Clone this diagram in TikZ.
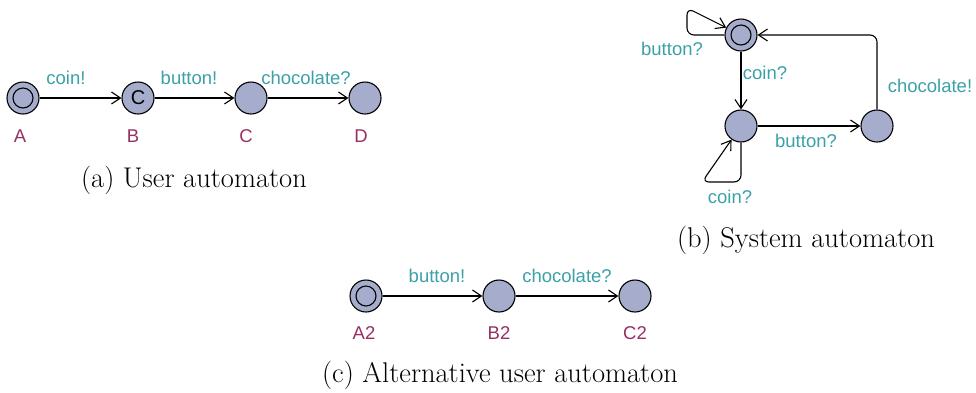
\documentclass[tikz,border=0pt]{standalone}
\usepackage{fontspec}
\setsansfont{Liberation Sans}
\usetikzlibrary{arrows.meta}
\definecolor{locfill}{RGB}{166,172,204}
\definecolor{synccol}{RGB}{60,160,168}
\definecolor{namecol}{RGB}{150,48,100}
\begin{document}
\begin{tikzpicture}[x=1pt,y=-1pt,
  loc/.style={circle, draw, fill=locfill, minimum size=32pt, inner sep=0pt, line width=1.1pt},
  initloc/.style={loc, path picture={\draw[line width=1.1pt] (path picture bounding box.center) circle (10pt);}},
  trans/.style={-{Straight Barb[length=9pt,width=12pt,line width=1.1pt]}, line width=1.1pt},
  sync/.style={text=synccol, font=\sffamily\fontsize{18.5}{21}\selectfont, inner sep=0pt},
  lname/.style={text=namecol, font=\sffamily\fontsize{18.5}{21}\selectfont, inner sep=0pt},
  captext/.style={font=\fontsize{28.5}{33}\selectfont, inner sep=0pt}]
\useasboundingbox (0,0) rectangle (976,392);

% (a) user automaton
\node[initloc] (A) at (23,98) {};
\node[loc, font=\sffamily\fontsize{20}{22}\selectfont] (B) at (138,98) {C};
\node[loc] (C) at (251,98) {};
\node[loc] (D) at (365,98) {};
\draw[trans] (A) -- (B);
\draw[trans] (B) -- (C);
\draw[trans] (C) -- (D);
\node[sync] (sa1) at (66,78) {coin!};
\node[sync] (sa2) at (189,78) {button!};
\node[sync] (sa3) at (306,78) {chocolate?};
\node[lname] (nA) at (20,136) {A};
\node[lname] (nB) at (133,136) {B};
\node[lname] (nC) at (246,136) {C};
\node[lname] (nD) at (361,136) {D};
\node[captext] (capa) at (194,180) {(a) User automaton};

% (b) system automaton
\node[initloc] (T) at (741,35) {};
\node[loc] (M) at (741,126) {};
\node[loc] (R) at (877,126) {};
\coordinate (t1) at (687,35);
\coordinate (t2) at (687,8);
\coordinate (m1) at (741,182);
\coordinate (m2) at (702,182);
\coordinate (r1) at (877,35);
\draw[trans, rounded corners=7pt] (T.west) -- (t1) -- (t2) -- (T);
\draw[trans] (T) -- (M);
\draw[trans] (M) -- (R);
\draw[trans, rounded corners=7pt] (M.south) -- (m1) -- (m2) -- (M);
\draw[trans, rounded corners=7pt] (R.north) -- (r1) -- (T.east);
\node[sync] (sb1) at (672,49) {button?};
\node[sync] (sb2) at (765,73) {coin?};
\node[sync] (sb3) at (806,141) {button?};
\node[sync] (sb4) at (930,86) {chocolate!};
\node[sync] (sb5) at (730,197) {coin?};
\node[captext] (capb) at (806,240) {(b) System automaton};

% (c) alternative user automaton
\node[initloc] (A2) at (366,296) {};
\node[loc] (B2) at (499,296) {};
\node[loc] (C2) at (635,296) {};
\draw[trans] (A2) -- (B2);
\draw[trans] (B2) -- (C2);
\node[sync] (sc1) at (437,276) {button!};
\node[sync] (sc2) at (567,276) {chocolate?};
\node[lname] (nA2) at (364,333) {A2};
\node[lname] (nB2) at (499,333) {B2};
\node[lname] (nC2) at (635,333) {C2};
\node[captext] (capc) at (500,375) {(c) Alternative user automaton};
\end{tikzpicture}
\end{document}
